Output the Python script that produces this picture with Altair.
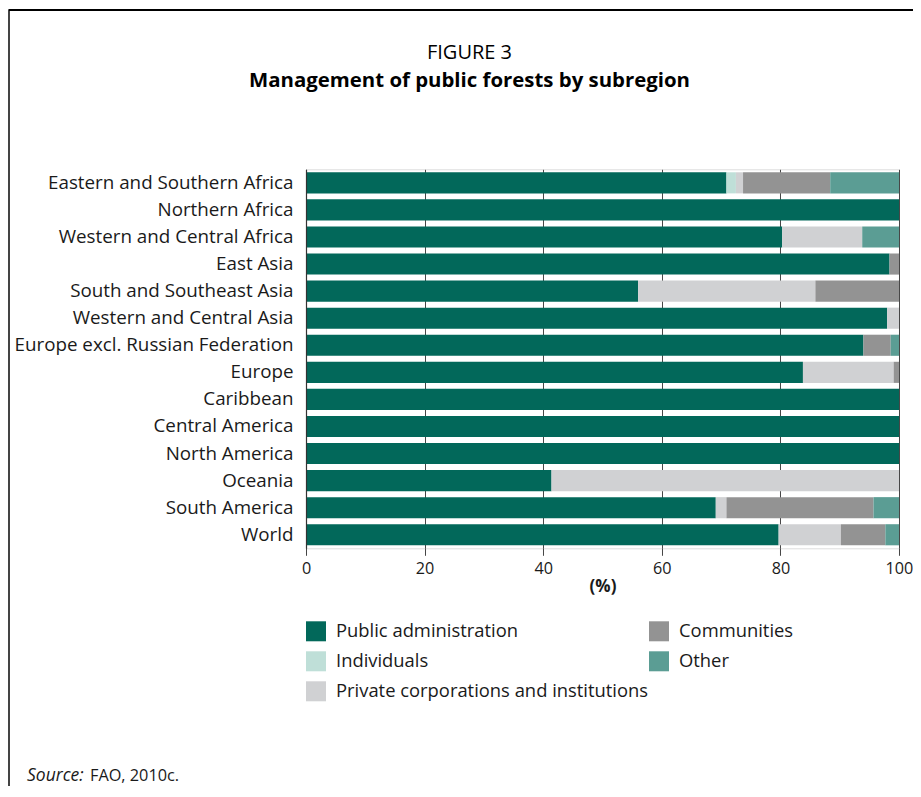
import altair as alt
import pandas as pd

regions = [
    "Eastern and Southern Africa", "Northern Africa", "Western and Central Africa",
    "East Asia", "South and Southeast Asia", "Western and Central Asia",
    "Europe excl. Russian Federation", "Europe", "Caribbean", "Central America",
    "North America", "Oceania", "South America", "World",
]
categories = [
    "Public administration", "Individuals", "Private corporations and institutions",
    "Communities", "Other",
]
public = [70.9, 100, 80.3, 98.4, 56.0, 98.0, 94.0, 83.8, 100, 100, 100, 41.4, 69.1, 79.7]
individuals = [1.6, 0, 0, 0, 0, 0, 0, 0, 0, 0, 0, 0, 0, 0]
private = [1.2, 0, 13.5, 0, 29.9, 2.0, 0, 15.3, 0, 0, 0, 58.6, 1.8, 10.5]
communities = [14.7, 0, 0, 1.6, 14.1, 0, 4.6, 0.9, 0, 0, 0, 0, 24.8, 7.5]
other = [11.6, 0, 6.2, 0, 0, 0, 1.4, 0, 0, 0, 0, 0, 4.3, 2.3]
series = [public, individuals, private, communities, other]
colors = ["#02685a", "#bfdfd8", "#d0d1d3", "#939393", "#5b9d94"]
x_ticks = [0, 20, 40, 60, 80, 100]

title_text = "FIGURE 3"
subtitle_text = "Management of public forests by subregion"
source_label = "Source:"
source_text = "FAO, 2010c."

rows = []
for i, r in enumerate(regions):
    for k, (cat, vals) in enumerate(zip(categories, series)):
        if vals[i] > 0:
            rows.append({"region": r, "category": cat, "value": vals[i], "ord": k})
df = pd.DataFrame(rows)

FONT = "Open Sans"
W, H = 593, 379

bars = alt.Chart(df).mark_bar().encode(
    y=alt.Y("region:N", sort=regions, title=None,
            scale=alt.Scale(paddingInner=0.22, paddingOuter=0.11),
            axis=alt.Axis(domain=True, domainColor="#333333", domainWidth=1.2, ticks=False,
                          labelPadding=13, labelFontSize=18.8, labelColor="#1a1a1a",
                          labelFont=FONT, grid=False, zindex=1, labelLimit=400)),
    x=alt.X("value:Q", stack="zero", scale=alt.Scale(domain=[0, 100], nice=False),
            title="(%)",
            axis=alt.Axis(values=x_ticks, domain=False, tickSize=7, tickColor="#444444",
                          grid=True, gridColor="#444444", gridWidth=1, labelFlush=False,
                          labelFont=FONT, labelFontSize=16.2, labelColor="#1a1a1a",
                          labelPadding=5, titleFont=FONT, titleFontSize=17,
                          titleFontWeight="bold", titleColor="#1a1a1a", titlePadding=2)),
    color=alt.Color("category:N",
                    scale=alt.Scale(domain=categories, range=colors),
                    legend=alt.Legend(title=None, orient="none", legendX=0, legendY=452,
                                      columns=2, symbolType="square", symbolSize=400,
                                      symbolStrokeWidth=0, labelFont=FONT,
                                      labelFontSize=18.4, labelColor="#1a1a1a",
                                      labelOffset=10, rowPadding=10, columnPadding=0,
                                      labelLimit=400)),
    order=alt.Order("ord:Q"),
)

one = pd.DataFrame({"a": [0]})
top_line = alt.Chart(one).mark_rule(color="#000000", strokeWidth=2).encode(
    x=alt.value(-297), x2=alt.value(640), y=alt.value(-159.3))
left_line = alt.Chart(one).mark_rule(color="#444444", strokeWidth=2).encode(
    x=alt.value(-297), y=alt.value(-160), y2=alt.value(640))

txt = pd.DataFrame({"title": [title_text], "sub": [subtitle_text],
                    "s1": [source_label], "s2": [source_text]})
title1 = alt.Chart(txt).mark_text(align="center", baseline="alphabetic", font=FONT,
                                  fontSize=20, color="#000000").encode(
    text="title:N", x=alt.value(163.5), y=alt.value(-110))
title2 = alt.Chart(txt).mark_text(align="center", baseline="alphabetic", font=FONT,
                                  fontSize=20.4, fontWeight="bold", color="#000000").encode(
    text="sub:N", x=alt.value(163.5), y=alt.value(-82.5))
source1 = alt.Chart(txt).mark_text(align="left", baseline="middle", font=FONT,
                                   fontSize=17.5, fontStyle="italic", color="#1a1a1a").encode(
    text="s1:N", x=alt.value(-279), y=alt.value(606.7))
source2 = alt.Chart(txt).mark_text(align="left", baseline="middle", font=FONT,
                                   fontSize=16.3, color="#1a1a1a").encode(
    text="s2:N", x=alt.value(-216), y=alt.value(606.7))

chart = alt.layer(left_line, top_line, bars, title1, title2, source1, source2).properties(
    width=W, height=H,
    autosize=alt.AutoSizeParams(type="none"),
    padding={"left": 298, "top": 161.3, "right": 14, "bottom": 238},
).configure_view(stroke=None).configure(background="white")

chart.save("out.html", embed_options={"renderer": "svg", "actions": False})
